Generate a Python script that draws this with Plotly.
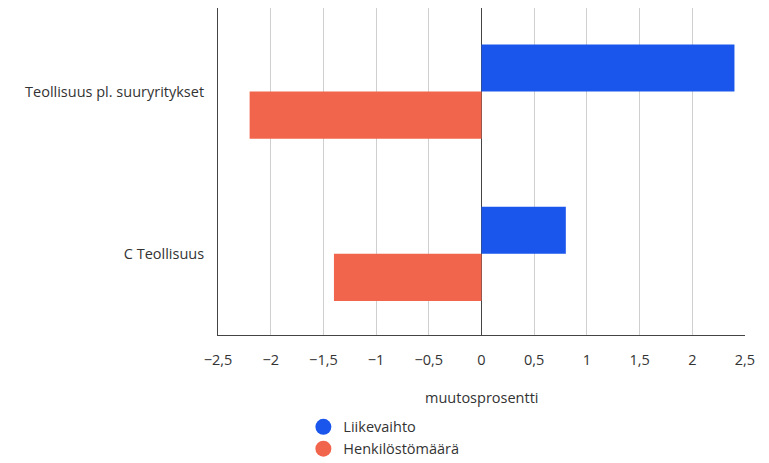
import plotly.graph_objects as go

categories = ["C Teollisuus", "Teollisuus pl. suuryritykset"]
liikevaihto = [0.8, 2.4]
henkilostomaara = [-1.4, -2.2]
series_names = ["Liikevaihto", "Henkilöstömäärä"]
colors = ["#1a56eb", "#f2654d"]
tick_vals = [-2.5, -2, -1.5, -1, -0.5, 0, 0.5, 1, 1.5, 2, 2.5]

fig = go.Figure()
# red first so blue sits on top within each group
fig.add_trace(go.Bar(y=categories, x=henkilostomaara, orientation="h",
                     marker=dict(color=colors[1], line=dict(width=0)),
                     name=series_names[1], showlegend=False))
fig.add_trace(go.Bar(y=categories, x=liikevaihto, orientation="h",
                     marker=dict(color=colors[0], line=dict(width=0)),
                     name=series_names[0], showlegend=False))
for name, c in zip(series_names, colors):
    fig.add_trace(go.Scatter(x=[None], y=[None], mode="markers", name=name,
                             marker=dict(symbol="circle", size=17, color=c)))

font_family = "Open Sans, Noto Sans, sans-serif"
fs = 14.5
fig.update_layout(
    width=769, height=463,
    margin=dict(l=210, r=32, t=0, b=136),
    paper_bgcolor="white", plot_bgcolor="white",
    barmode="group", bargap=0.42, bargroupgap=0,
    separators=", ",
    font=dict(family=font_family, size=fs, color="#333333"),
    showlegend=True,
    legend=dict(x=0.162, y=-0.232, xanchor="left", yanchor="top",
                orientation="v", font=dict(size=fs, color="#333333"),
                itemsizing="trace", tracegroupgap=0, bgcolor="rgba(0,0,0,0)"),
    xaxis=dict(range=[-2.5, 2.5], tickvals=tick_vals, tickformat=",.1~f",
               showgrid=True, gridcolor="#cfcfcf", gridwidth=1,
               zeroline=True, zerolinecolor="#444444", zerolinewidth=1,
               showline=True, linecolor="#444444", linewidth=1,
               ticks="", ticklabelstandoff=12, tickfont=dict(size=fs),
               fixedrange=True),
    yaxis=dict(type="category", categoryorder="array", categoryarray=categories,
               range=[-0.5, 1.515],
               showgrid=False, zeroline=False,
               showline=True, linecolor="#444444", linewidth=1,
               ticks="", ticklabelstandoff=10, tickfont=dict(size=fs),
               fixedrange=True),
    annotations=[dict(text="muutosprosentti", xref="paper", yref="paper",
                      x=0.5, y=-0.19, xanchor="center", yanchor="middle",
                      showarrow=False, font=dict(size=fs, color="#333333"))],
)

fig.write_html("out.html")
